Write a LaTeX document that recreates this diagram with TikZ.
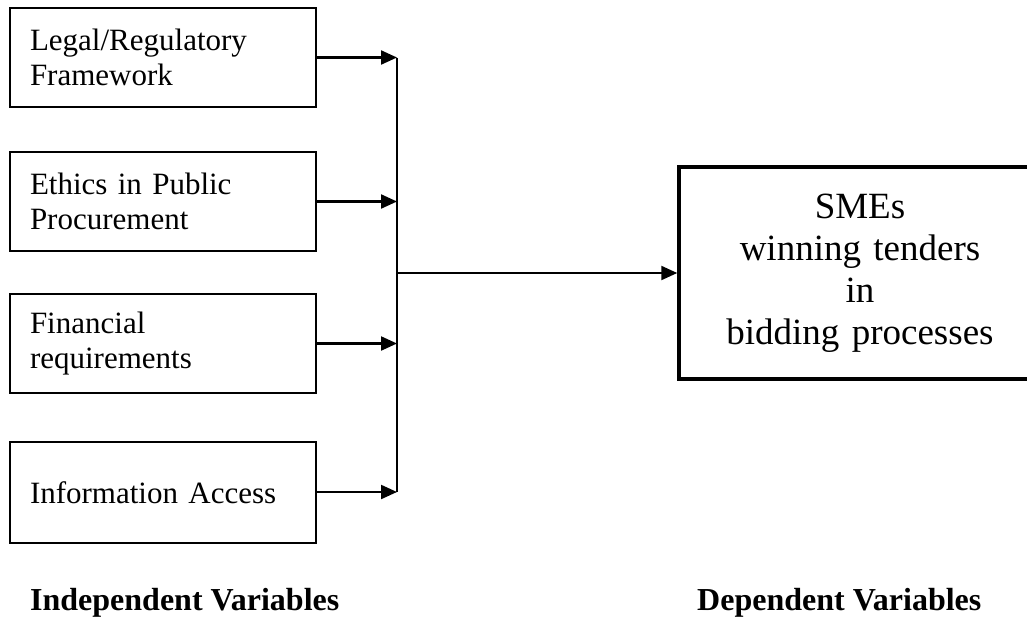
\documentclass[tikz,border=0pt]{standalone}
\usepackage{fontspec}
\setmainfont{Liberation Serif}
\usetikzlibrary{arrows.meta}

\begin{document}
\begin{tikzpicture}[x=1pt,y=-1pt,
  varbox/.style={draw,line width=1.6pt,rectangle,minimum width=306pt,minimum height=99pt,
    text width=266pt,align=left,inner xsep=20pt,font=\fontsize{31}{35}\selectfont},
  link/.style={line width=2.2pt,-{Triangle[length=16pt,width=14pt]}}]

\useasboundingbox (0,0) rectangle (1027,619);

% Left column: independent variables (top to bottom)
\node [varbox] (legal) at (163,57.5) {Legal/Regulatory\\Framework};
\node [varbox] (ethics) at (163,201.5) {Ethics in Public\\Procurement};
\node [varbox] (finance) at (163,343.5) {Financial\\requirements};
\node [varbox,minimum height=101pt] (access) at (163,492.5) {Information Access};

% Junction points on the collecting line
\coordinate (j1) at (397,57.5);
\coordinate (j2) at (397,201.5);
\coordinate (j3) at (397,343.5);
\coordinate (j4) at (397,492);
\coordinate (jm) at (397,273);

\draw [link] (legal) -- (j1);
\draw [link] (ethics) -- (j2);
\draw [link] (finance) -- (j3);
\draw [link] (access.east |- j4) -- (j4);
\draw [line width=1.8pt] (j1) -- (j4);

% Right: dependent variable
\node [draw,line width=3.5pt,rectangle,minimum width=362pt,minimum height=212pt,
  text width=340pt,align=center,font=\fontsize{37}{42}\selectfont] (smes) at (860,273)
  {SMEs\\winning tenders\\in\\bidding processes};

\draw [link] (jm) -- (smes.west);

% Column captions
\node [anchor=base west,inner sep=0pt,font=\fontsize{32}{36}\selectfont\bfseries] (indep) at (30,610) {Independent Variables};
\node [anchor=base west,inner sep=0pt,font=\fontsize{32}{36}\selectfont\bfseries] (dep) at (697,610) {Dependent Variables};

\end{tikzpicture}
\end{document}
